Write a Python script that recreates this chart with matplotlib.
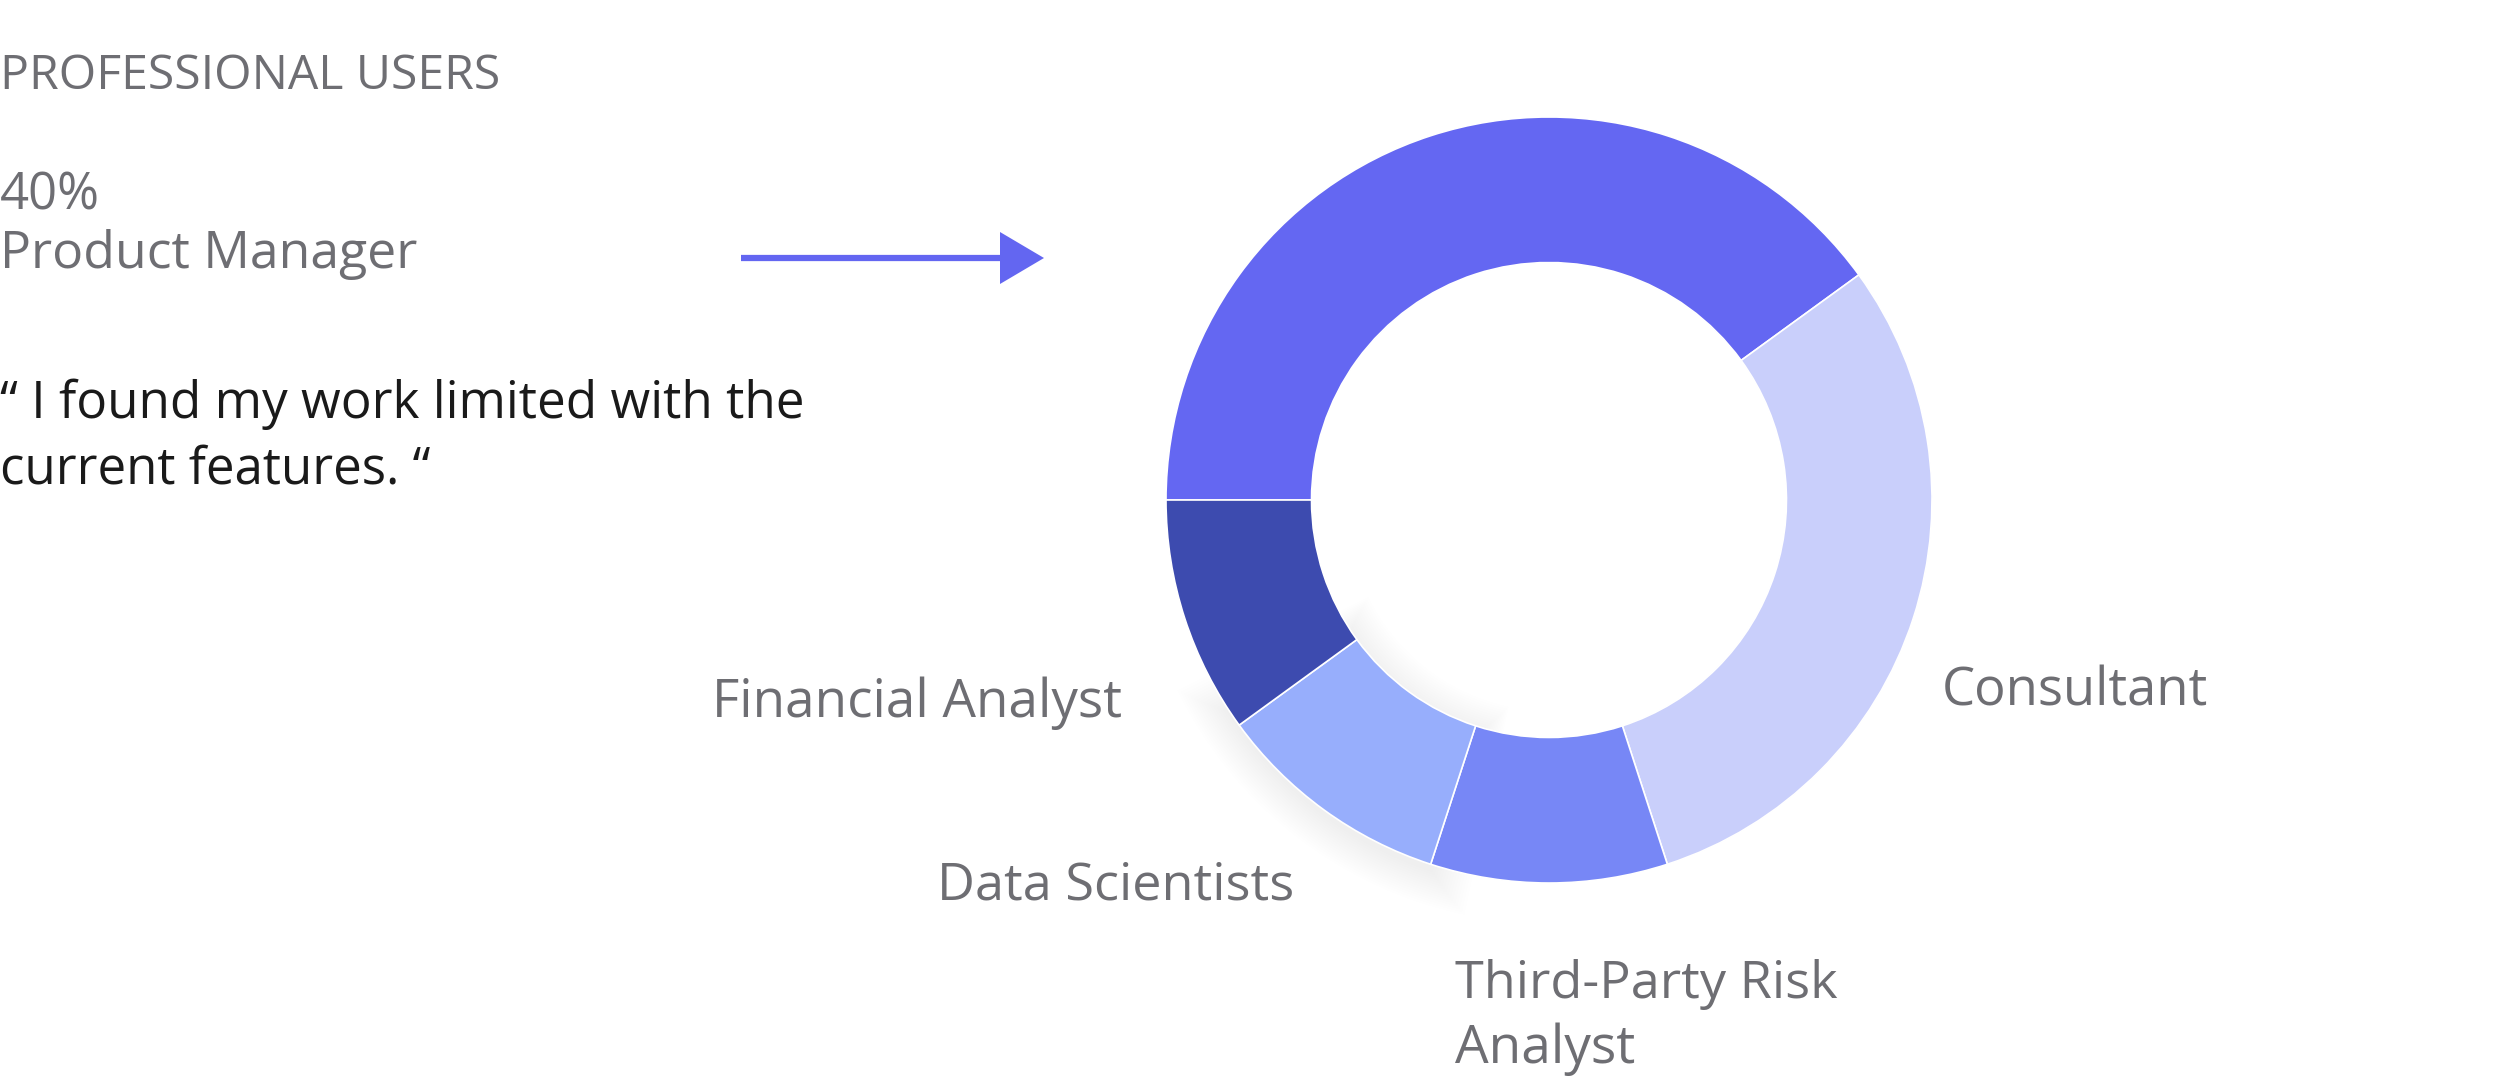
import numpy as np
import matplotlib
matplotlib.use("Agg")
import matplotlib.pyplot as plt
from matplotlib.patches import Wedge, Polygon

# data
roles = ["Product Manager", "Consultant", "Third-Party Risk\nAnalyst", "Data Scientists", "Financial Analyst"]
shares = [40, 30, 10, 10, 10]
colors = ["#6467F2", "#C9CFFB", "#7787F6", "#97AEFC", "#3D4BAF"]

title = "PROFESSIONAL USERS"
top_pct = "40%"
top_role = "Product Manager"
quote = ["\u201c I found my work limited with the", "current features. \u201c"]

W, H = 2499, 1077
plt.rcParams['font.family'] = ['Open Sans', 'DejaVu Sans']

fig = plt.figure(figsize=(W / 100, H / 100), dpi=100)
ax = fig.add_axes([0, 0, 1, 1])

cx, cy, R = 1549, H - 500, 383
ring = 0.38 * R

# soft shadow under the data scientists slice
for k in range(16):
    ax.add_patch(Wedge((cx + 2, cy - 8), R + 2.2 * k, -148 - k * 0.4, -108 + k * 0.4,
                       width=ring + 4.5 * k, facecolor="black", edgecolor="none",
                       alpha=0.0045, zorder=0))

ax.pie(shares, colors=colors, startangle=180, counterclock=False,
       center=(cx, cy), radius=R, frame=True,
       wedgeprops=dict(width=ring, edgecolor="white", linewidth=1.2))

ax.set_xlim(0, W)
ax.set_ylim(0, H)
ax.set_aspect("equal")
ax.axis("off")

grey = "#6E6E73"
texts = []


def put(x, ytop, s, width, color=grey, weight="normal"):
    t = ax.text(x, H - ytop, s, fontsize=30, color=color, weight=weight,
                ha="left", va="baseline")
    texts.append((t, width))
    return t


put(0, 89, title, 500)
put(0, 209, top_pct, 100)
put(0, 268, top_role, 418)
put(0, 418, quote[0], 805, color="#1A1A1A", weight="medium")
put(0, 483, quote[1], 430, color="#1A1A1A", weight="medium")

put(1942, 706, roles[1], 266)
put(712, 717, roles[4], 410)
put(937, 899, roles[3], 357)
put(1455, 998, roles[2].split("\n")[0], 382)
put(1455, 1063, roles[2].split("\n")[1], 180)

# scale font sizes to the measured widths
fig.canvas.draw()
rend = fig.canvas.get_renderer()
for t, w in texts:
    bb = t.get_window_extent(rend)
    t.set_fontsize(30 * w / bb.width)

# arrow
ay = H - 258
ax.plot([741, 1003], [ay, ay], color="#6366F1", lw=4.5, solid_capstyle="butt")
ax.add_patch(Polygon([[1000, ay + 26], [1044, ay], [1000, ay - 26]], closed=True,
                     facecolor="#6366F1", edgecolor="none"))

fig.savefig("out.png", dpi=100, facecolor="white")
